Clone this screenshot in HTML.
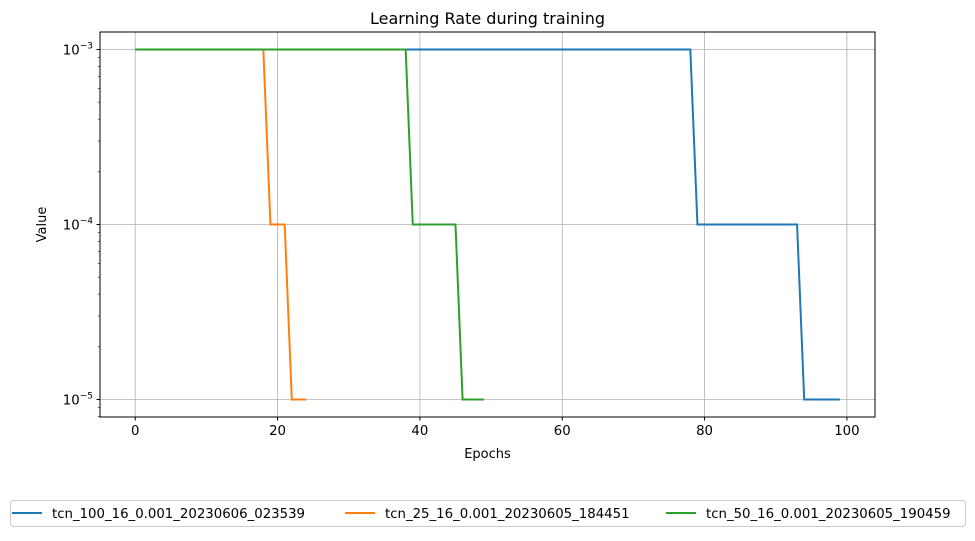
<!DOCTYPE html>
<html><head><meta charset="utf-8"><style>
body{margin:0;background:#fff;}
svg text{font-family:"DejaVu Sans","Liberation Sans",sans-serif;fill:#000;}
</style></head><body>
<svg id="chart" width="975" height="536" viewBox="0 0 975 536" xmlns="http://www.w3.org/2000/svg">
<text x="487.5" y="24" font-size="16" text-anchor="middle">Learning Rate during training</text>
<g id="grid"></g>
<g id="series"></g>
<rect x="100" y="32" width="775" height="385" fill="none" stroke="#000" stroke-width="1"/>
<g id="axes"></g>
<text x="487.5" y="458" font-size="13" text-anchor="middle">Epochs</text>
<text transform="translate(46,224.5) rotate(-90)" font-size="13" text-anchor="middle">Value</text>
<g>
<rect x="10.5" y="500.5" width="955" height="26" rx="3" fill="#fff" stroke="#ccc"/>
<g id="legend"></g>
</g>
</svg>
<script>
const epochsBlue=[0,78,79,93,94,99];
const valuesBlue=[1e-3,1e-3,1e-4,1e-4,1e-5,1e-5];
const epochsOrange=[0,18,19,21,22,24];
const valuesOrange=[1e-3,1e-3,1e-4,1e-4,1e-5,1e-5];
const epochsGreen=[0,38,39,45,46,49];
const valuesGreen=[1e-3,1e-3,1e-4,1e-4,1e-5,1e-5];
const seriesNames=["tcn_100_16_0.001_20230606_023539","tcn_25_16_0.001_20230605_184451","tcn_50_16_0.001_20230605_190459"];
const xTicks=[0,20,40,60,80,100];
const yTickExps=[-3,-4,-5];

const L=100,R=875,T=32,B=417;
const xmin=-4.95,xmax=103.95,ymin=-5.1,ymax=-2.9;
const sx=v=>L+(v-xmin)/(xmax-xmin)*(R-L);
const sy=v=>B-(Math.log10(v)-ymin)/(ymax-ymin)*(B-T);
const NS="http://www.w3.org/2000/svg";
function mk(tag,attrs,parent){const e=document.createElementNS(NS,tag);for(const k in attrs)e.setAttribute(k,attrs[k]);parent.appendChild(e);return e;}
const grid=document.getElementById('grid'),axes=document.getElementById('axes'),ser=document.getElementById('series'),leg=document.getElementById('legend');
xTicks.forEach(t=>{const x=sx(t);
 const g=mk('line',{x1:x,x2:x,y1:T,y2:B,stroke:'#b0b0b0','stroke-width':0.8},grid);
 
 mk('line',{x1:x,x2:x,y1:B,y2:B+3.5,stroke:'#000'},axes);
 const tx=mk('text',{x:x,y:B+18,'font-size':13.3,'text-anchor':'middle'},axes);tx.textContent=t;
 
});
yTickExps.forEach(e=>{const y=sy(Math.pow(10,e));
 const g=mk('line',{x1:L,x2:R,y1:y,y2:y,stroke:'#b0b0b0','stroke-width':0.8},grid);
 
 mk('line',{x1:L-3.5,x2:L,y1:y,y2:y,stroke:'#000'},axes);
 const tx=mk('text',{x:L-7,y:y+5,'font-size':13.3,'text-anchor':'end'},axes);
 tx.innerHTML='10<tspan dy="-6" font-size="9">\u2212'+(-e)+'</tspan>';
 
});
for(let e=-6;e<=-3;e++)for(let m=2;m<10;m++){const v=m*Math.pow(10,e);const lv=Math.log10(v);if(lv<ymin||lv>ymax)continue;
 const y=sy(v);mk('line',{x1:L-2,x2:L,y1:y,y2:y,stroke:'#000','stroke-width':0.6},axes);}
const colors=["#1f77b4","#ff7f0e","#2ca02c"];
const data=[[epochsBlue,valuesBlue],[epochsOrange,valuesOrange],[epochsGreen,valuesGreen]];
data.forEach((d,i)=>{const pts=d[0].map((x,j)=>sx(x)+','+sy(d[1][j])).join(' ');
 const p=mk('polyline',{points:pts,fill:'none',stroke:colors[i],'stroke-width':2},ser);
 
});
const legX=[12,345,666];
seriesNames.forEach((n,i)=>{
 mk('line',{x1:legX[i],x2:legX[i]+30,y1:513,y2:513,stroke:colors[i],'stroke-width':2},leg);
 const t=mk('text',{x:legX[i]+40,y:518,'font-size':13.3},leg);t.textContent=n;
 
});
</script>
</body></html>
